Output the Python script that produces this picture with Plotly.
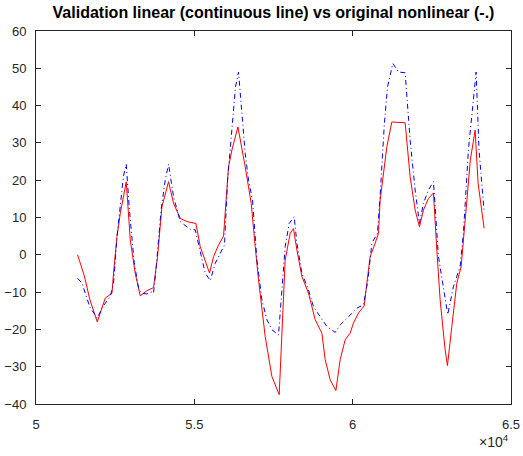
import plotly.graph_objects as go

# Linear model validation output (solid red)
lin_x = [51313, 51525, 51700, 51935, 52188, 52399, 52449, 52557, 52661, 52850,
         52977, 53134, 53292, 53504, 53712, 53838, 53977, 54186, 54343, 54555,
         54766, 55050, 55186, 55344, 55480, 55606, 55764, 55922, 56080, 56187,
         56376, 56606, 56796, 56922, 57027, 57238, 57449, 57680, 57765, 57869,
         58027, 58131, 58239, 58396, 58605, 58817, 59028, 59132, 59290, 59470,
         59605, 59763, 59921, 60025, 60183, 60363, 60448, 60552, 60710, 60815,
         60868, 61080, 61237, 61657, 61815, 61973, 62109, 62235, 62393, 62551,
         62658, 62762, 62920, 62993, 63131, 63289, 63425, 63551, 63716, 63867,
         63961, 64151]
lin_y = [0.0, -5.6, -12.0, -18.0, -11.6, -10.3, -4.9, 4.9, 11.1, 19.6,
         4.0, -5.0, -11.0, -9.6, -8.8, -0.5, 12.9, 19.6, 13.8, 9.8,
         8.9, 8.4, 2.2, -1.8, -4.9, -0.5, 2.6, 5.0, 23.6, 28.1,
         34.3, 23.6, 13.8, 2.2, -6.7, -21.9, -32.6, -37.5, -19.2, -1.4,
         5.8, 7.0, 1.3, -5.8, -10.3, -17.4, -21.0, -28.1, -33.5, -36.4,
         -28.1, -22.8, -21.0, -18.3, -15.6, -13.7, -7.6, -0.5, 3.1, 5.8,
         14.7, 29.0, 35.6, 35.4, 20.9, 12.0, 7.5, 12.0, 15.1, 16.6,
         1.3, -12.1, -25.5, -29.7, -19.2, -7.6, -3.2, 10.2, 25.4, 33.4,
         19.2, 7.1]

# Original nonlinear model output (dash-dot blue)
nl_x = [51313, 51452, 51556, 51700, 51935, 52100, 52345, 52449, 52560, 52660,
        52760, 52850, 52950, 53100, 53240, 53346, 53500, 53650, 53712, 53800,
        53950, 54080, 54186, 54343, 54555, 54766, 54871, 55028, 55186, 55344,
        55502, 55660, 55818, 55953, 56050, 56200, 56300, 56395, 56606, 56711,
        56837, 56976, 57134, 57292, 57450, 57658, 57765, 57869, 57996, 58153,
        58239, 58396, 58605, 58763, 58974, 59186, 59448, 59606, 59868, 60133,
        60341, 60478, 60606, 60783, 60868, 61000, 61100, 61269, 61450, 61657,
        61815, 61973, 62109, 62235, 62393, 62551, 62709, 62866, 63003, 63182,
        63393, 63497, 63655, 63899, 63990, 64151]
nl_y = [-6.3, -7.6, -10.3, -14.0, -17.0, -14.0, -11.2, -7.6, 5.0, 13.0,
        21.0, 24.3, 12.0, -2.0, -9.0, -10.3, -10.5, -10.0, -10.3, -3.0,
        12.0, 20.0, 24.3, 15.6, 8.9, 7.5, 6.8, 6.7, 1.3, -4.9,
        -6.9, -2.3, 0.4, 2.6, 20.0, 36.0, 45.0, 49.0, 27.2, 20.0,
        14.7, -1.4, -12.1, -17.4, -20.1, -21.5, -10.3, 2.2, 8.4, 10.2,
        3.1, -4.9, -9.4, -13.9, -16.6, -19.2, -20.8, -18.8, -16.6, -14.3,
        -13.4, -7.0, 3.1, 5.8, 16.0, 35.0, 45.0, 51.3, 49.0, 48.8,
        30.7, 17.4, 8.4, 13.8, 17.4, 19.6, -0.5, -9.4, -16.0, -8.5,
        -3.2, 5.8, 28.1, 49.0, 28.1, 11.6]

x_ticks = [50000, 55000, 60000, 65000]
x_tick_text = ["5", "5.5", "6", "6.5"]

AX = "#262626"
FONT = "Liberation Sans, Arial, sans-serif"

fig = go.Figure()
fig.add_trace(go.Scatter(x=lin_x, y=lin_y, mode="lines",
                         line=dict(color="#ff0000", width=1)))
fig.add_trace(go.Scatter(x=nl_x, y=nl_y, mode="lines",
                         line=dict(color="#0000ff", width=1, dash="5px,3px,1px,3px")))

axis_common = dict(showline=True, linecolor=AX, linewidth=1, mirror="ticks",
                   ticks="inside", ticklen=5, tickcolor=AX, tickwidth=1,
                   showgrid=False, zeroline=False, automargin=False,
                   tickfont=dict(family=FONT, size=13, color=AX))

fig.update_layout(
    width=523, height=456,
    margin=dict(l=36, r=12, t=31, b=52),
    paper_bgcolor="white", plot_bgcolor="white",
    showlegend=False,
    title=dict(text="<b>Validation linear (continuous line) vs original nonlinear (-.)</b>",
               x=0.5, xanchor="center", xref="paper", y=1 - 12 / 456, yanchor="middle",
               font=dict(family=FONT, size=16, color="black")),
    xaxis=dict(range=[50000, 65000], tickvals=x_ticks, ticktext=x_tick_text,
               ticklabelstandoff=8, **axis_common),
    yaxis=dict(range=[-40, 60], dtick=10, tick0=0, ticklabelstandoff=6, **axis_common),
)

fig.add_annotation(text="×10<sup>4</sup>", xref="paper", yref="paper",
                   x=1.0, y=0, xanchor="right", yanchor="top", yshift=-26,
                   showarrow=False, font=dict(family=FONT, size=14, color=AX))

fig.write_html("out.html")
